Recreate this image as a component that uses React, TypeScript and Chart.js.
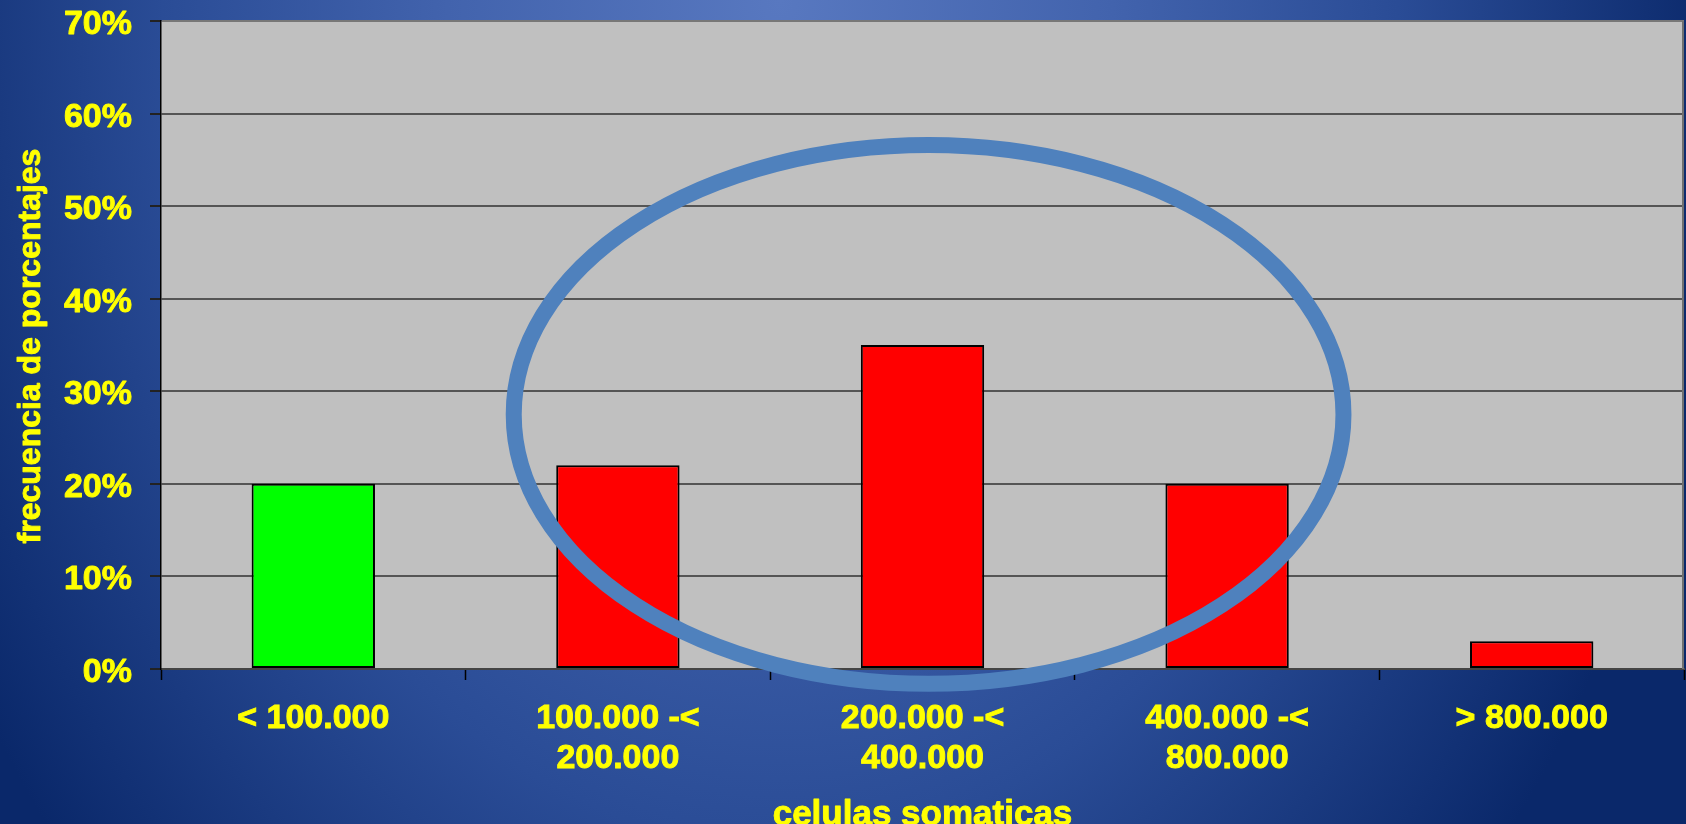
import React, { useEffect, useRef } from 'react';
import { Chart, registerables } from 'chart.js';

Chart.register(...registerables);

// ---- data ----
const categories: (string | string[])[] = [
  '< 100.000',
  ['100.000 -<', '200.000'],
  ['200.000 -<', '400.000'],
  ['400.000 -<', '800.000'],
  '> 800.000',
];
const values = [20, 22, 35, 20, 3];
const barColors = ['#00FF00', '#FF0000', '#FF0000', '#FF0000', '#FF0000'];
const yMin = 0;
const yMax = 70;
const yStep = 10;
const xTitle = 'celulas somaticas';
const yTitle = 'frecuencia de porcentajes';
// highlight ellipse in data units (category index, percent)
const ellipseCenter = [2.02, 27.5];
const ellipseRadius = [1.362, 29.1];

const FONT = "'Liberation Sans', Arial, Helvetica, sans-serif";
const YELLOW = '#FFFF00';
const STROKE = 0.9;

function boldText(ctx: CanvasRenderingContext2D, text: string, x: number, y: number, stroke: number) {
  ctx.fillText(text, x, y);
  if (stroke > 0) {
    ctx.lineWidth = stroke;
    ctx.strokeText(text, x, y);
  }
}

const decorPlugin = {
  id: 'decor',
  beforeDraw(chart: any) {
    const { ctx, chartArea } = chart;
    ctx.save();
    const sy = 1300 / 950;
    ctx.translate(780, 0);
    ctx.scale(1, sy);
    const g = ctx.createRadialGradient(0, 0, 0, 0, 0, 950);
    g.addColorStop(0, '#5878c0');
    g.addColorStop(0.35, '#4263ad');
    g.addColorStop(0.65, '#2a4c96');
    g.addColorStop(1, '#0a286a');
    ctx.fillStyle = g;
    ctx.fillRect(-3000, -3000, 6000, 6000);
    ctx.restore();
    ctx.save();
    ctx.fillStyle = '#C0C0C0';
    ctx.fillRect(chartArea.left, chartArea.top, chartArea.right - chartArea.left, chartArea.bottom - chartArea.top);
    ctx.restore();
  },
  afterDraw(chart: any) {
    const { ctx, chartArea, scales } = chart;
    const x = scales.x;
    const y = scales.y;
    ctx.save();
    // right border of plot
    ctx.strokeStyle = '#707070';
    ctx.lineWidth = 2;
    ctx.beginPath();
    ctx.moveTo(chartArea.right - 1, chartArea.top);
    ctx.lineTo(chartArea.right - 1, chartArea.bottom);
    ctx.stroke();

    // y tick labels
    ctx.fillStyle = YELLOW;
    ctx.strokeStyle = YELLOW;
    ctx.lineJoin = 'round';
    ctx.font = `bold 34px ${FONT}`;
    ctx.textAlign = 'right';
    ctx.textBaseline = 'alphabetic';
    const labelRight = chartArea.left - 11 - 18;
    y.ticks.forEach((t: any) => {
      const py = y.getPixelForValue(t.value);
      boldText(ctx, t.value + '%', labelRight, py + 13, STROKE);
    });

    // axis titles
    ctx.textAlign = 'center';
    ctx.font = `bold 35px ${FONT}`;
    boldText(ctx, xTitle, (chartArea.left + chartArea.right) / 2, 825, STROKE);
    ctx.save();
    ctx.translate(40, (chartArea.top + chartArea.bottom) / 2 + 1);
    ctx.rotate(-Math.PI / 2);
    ctx.font = `bold 32px ${FONT}`;
    boldText(ctx, yTitle, 0, 0, STROKE);
    ctx.restore();

    // highlight ellipse
    const cx = x.getPixelForValue(ellipseCenter[0]);
    const cy = y.getPixelForValue(ellipseCenter[1]);
    const rx = Math.abs(x.getPixelForValue(ellipseCenter[0] + ellipseRadius[0]) - cx);
    const ry = Math.abs(y.getPixelForValue(ellipseCenter[1] + ellipseRadius[1]) - cy);
    ctx.strokeStyle = '#4F81BD';
    ctx.lineWidth = 16;
    ctx.beginPath();
    ctx.ellipse(cx, cy, rx, ry, 0, 0, Math.PI * 2);
    ctx.stroke();
    ctx.restore();
  },
};

export default function App() {
  const ref = useRef<HTMLCanvasElement>(null);
  useEffect(() => {
    document.body.style.margin = '0';
    const chart = new Chart(ref.current as HTMLCanvasElement, {
      type: 'bar',
      data: {
        labels: categories as any,
        datasets: [
          {
            data: values,
            backgroundColor: barColors,
            borderColor: '#000000',
            borderWidth: 2,
            borderSkipped: false,
            categoryPercentage: 1,
            barPercentage: 0.405,
          },
        ],
      },
      options: {
        animation: false,
        responsive: false,
        events: [],
        layout: { padding: { top: 21, right: 2, bottom: 0, left: 0 } },
        plugins: { legend: { display: false }, tooltip: { enabled: false } },
        scales: {
          x: {
            grid: { offset: true, drawOnChartArea: false, tickLength: 11, tickColor: '#000', tickWidth: 1.5 },
            border: { color: '#444444', width: 2 },
            ticks: {
              color: YELLOW,
              autoSkip: false,
              maxRotation: 0,
              padding: 19,
              textStrokeColor: YELLOW,
              textStrokeWidth: STROKE,
              font: { family: FONT, size: 34, weight: 'bold', lineHeight: 1.16 },
            },
            title: { display: false },
            afterFit: (s: any) => {
              s.height = 155;
              s.paddingLeft = 0;
              s.paddingRight = 0;
            },
          },
          y: {
            min: yMin,
            max: yMax,
            grid: {
              color: (c: any) => (c.tick && c.tick.value === yMax ? '#777777' : '#555555'),
              lineWidth: 2,
              tickLength: 11,
              tickColor: '#222222',
            },
            border: { color: '#000000', width: 1.5 },
            ticks: {
              stepSize: yStep,
              display: false,
            },
            title: { display: false },
            afterFit: (s: any) => {
              s.width = 161;
              s.paddingTop = 0;
              s.paddingBottom = 0;
            },
          },
        },
      } as any,
      plugins: [decorPlugin],
    });
    return () => chart.destroy();
  }, []);
  return (
    <div style={{ position: 'fixed', left: 0, top: 0, width: 1686, height: 824 }}>
      <canvas ref={ref} width={1686} height={824} style={{ display: 'block' }} />
    </div>
  );
}
